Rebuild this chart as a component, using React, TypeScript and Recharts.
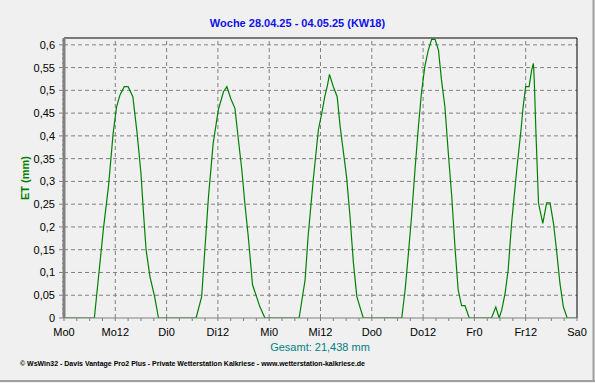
import { LineChart, Line, XAxis, YAxis, ReferenceLine } from 'recharts';

// hours since Monday 00:00 and evapotranspiration (mm)
const hours = [
  0, 7.1, 9.2, 10.4, 11.5, 12.3, 13.1, 14.1, 15.0, 16.1, 17.1, 18.0, 18.6, 19.2, 20.1, 21.2, 22.1,
  30.9, 32.2, 33.0, 33.8, 34.9, 36.1, 37.3, 38.1, 39.0, 40.0, 40.8, 41.6, 42.3, 43.1, 44.1, 45.8, 47.0,
  55.0, 56.4, 57.1, 58.3, 59.5, 60.3, 61.0, 61.6, 62.1, 63.0, 63.9, 64.6, 65.5, 66.1, 66.9, 67.7, 68.5, 70.0,
  79.0, 79.8, 80.5, 81.3, 82.1, 82.9, 83.6, 84.4, 85.2, 86.0, 86.8, 87.6, 88.3, 89.1, 89.9, 90.7, 91.5, 92.2, 93.0, 93.8, 94.8,
  100.0, 101.0, 101.8, 102.4, 103.2, 103.9, 104.7, 105.9, 106.9, 107.4, 108.0, 108.8, 109.4, 109.8, 110.0, 110.4, 111.0,
  112.0, 112.9, 113.7, 114.5, 115.2, 116.0, 116.8, 117.7, 120,
];
const etMm = [
  0, 0, 0.194, 0.289, 0.406, 0.464, 0.49, 0.508, 0.508, 0.486, 0.406, 0.318, 0.23, 0.15, 0.091, 0.047, 0,
  0, 0.047, 0.157, 0.267, 0.384, 0.457, 0.497, 0.508, 0.482, 0.46, 0.391, 0.325, 0.252, 0.179, 0.073, 0.025, 0,
  0, 0.084, 0.179, 0.303, 0.413, 0.45, 0.486, 0.51, 0.535, 0.508, 0.486, 0.42, 0.354, 0.31, 0.223, 0.121, 0.047, 0,
  0, 0.062, 0.135, 0.223, 0.325, 0.42, 0.493, 0.552, 0.588, 0.612, 0.612, 0.588, 0.523, 0.464, 0.362, 0.267, 0.15, 0.062, 0.027, 0.027, 0,
  0, 0.024, 0, 0.018, 0.055, 0.106, 0.208, 0.325, 0.413, 0.464, 0.508, 0.508, 0.545, 0.559, 0.523, 0.406, 0.252,
  0.208, 0.253, 0.253, 0.208, 0.15, 0.077, 0.025, 0, 0,
];

const dayNames = ['Mo', 'Di', 'Mi', 'Do', 'Fr', 'Sa'];
const xTicks = Array.from({ length: 41 }, (_, i) => i * 3);
const xGrid = [12, 24, 36, 48, 60, 72, 84, 96, 108];
const yTicks = Array.from({ length: 62 }, (_, i) => +(i * 0.01).toFixed(2));
const yGrid = [0.05, 0.1, 0.15, 0.2, 0.25, 0.3, 0.35, 0.4, 0.45, 0.5, 0.55, 0.6];
const Y_MAX = 0.615;

const data = hours.map((h, i) => ({ h, et: etMm[i] }));

const FONT = '"Liberation Sans", Arial, sans-serif';
const GRAY = '#808080';

const XTick = (props: any) => {
  const { x, y, payload } = props;
  const v = payload.value;
  const major = v % 12 === 0;
  const axisY = y - 7 - 3;
  return (
    <g>
      <line x1={x} x2={x} y1={axisY} y2={axisY + 3} stroke={GRAY} />
      {major && (
        <text x={x} y={y} dy="0.71em" textAnchor="middle" fontSize={11} fontFamily={FONT} fill="#000">
          {dayNames[Math.floor(v / 24)] + (v % 24 === 0 ? '0' : '12')}
        </text>
      )}
    </g>
  );
};

const YTick = (props: any) => {
  const { x, y, payload } = props;
  const v = payload.value;
  const major = Math.round(v * 100) % 5 === 0;
  const axisX = x + 5 + 4;
  return (
    <g>
      <line x1={major ? axisX - 5 : axisX - 2} x2={axisX} y1={y} y2={y} stroke={GRAY} />
      {major && (
        <text x={x} y={y} dy="0.36em" textAnchor="end" fontSize={11} fontFamily={FONT} fill="#000">
          {v.toString().replace('.', ',')}
        </text>
      )}
    </g>
  );
};

export default function App() {
  return (
    <div style={{ position: 'absolute', left: 0, top: 0, width: 595, height: 383, background: '#F0F0F0', fontFamily: FONT }}>
      <div style={{ position: 'absolute', left: 0, right: 0, top: 17, textAlign: 'center', color: '#1010E8', fontWeight: 'bold', fontSize: 11 }}>
        Woche 28.04.25 - 04.05.25 (KW18)
      </div>
      <div style={{ position: 'absolute', left: 25, top: 178, transform: 'translate(-50%, -50%) rotate(-90deg)', color: '#008000', fontWeight: 'bold', fontSize: 11, whiteSpace: 'nowrap' }}>
        ET (mm)
      </div>
      <LineChart width={595} height={383} data={data} margin={{ top: 38, right: 18, bottom: 35, left: 0 }} style={{ position: 'absolute', left: 0, top: 0 }}>
        {yGrid.map((v) => (
          <ReferenceLine key={'y' + v} y={v} stroke={GRAY} strokeDasharray="4 3" />
        ))}
        {xGrid.map((v) => (
          <ReferenceLine key={'x' + v} x={v} stroke={GRAY} strokeDasharray="4 3" />
        ))}
        <ReferenceLine y={Y_MAX} stroke="#000" />
        <ReferenceLine x={120} stroke="#000" />
        <XAxis
          dataKey="h"
          type="number"
          domain={[0, 120]}
          ticks={xTicks}
          interval={0}
          height={30}
          tickSize={3}
          tickMargin={7}
          tickLine={false}
          axisLine={{ stroke: GRAY }}
          tick={<XTick />}
        />
        <YAxis
          type="number"
          domain={[0, Y_MAX]}
          ticks={yTicks}
          interval={0}
          width={64}
          tickSize={4}
          tickMargin={5}
          tickLine={false}
          axisLine={{ stroke: GRAY, strokeWidth: 3 }}
          tick={<YTick />}
          allowDataOverflow
        />
        <Line type="linear" dataKey="et" stroke="#008000" strokeWidth={1.2} dot={false} isAnimationActive={false} />
      </LineChart>
      <div style={{ position: 'absolute', left: 260, width: 120, top: 341, textAlign: 'center', color: '#008080', fontSize: 11, whiteSpace: 'nowrap' }}>
        Gesamt: 21,438 mm
      </div>
      <svg width={595} height={383} style={{ position: 'absolute', left: 0, top: 0, pointerEvents: 'none' }}>
        <text x={20} y={366} fontSize={7} fontWeight="bold" fontFamily={FONT} fill="#000" textLength={345} lengthAdjust="spacingAndGlyphs">
          © WsWin32  -  Davis Vantage Pro2 Plus  -  Private Wetterstation Kalkriese - www.wetterstation-kalkriese.de
        </text>
        <line x1={593.5} x2={593.5} y1={0} y2={382} stroke="#A0A0A0" strokeWidth={2} />
        <line x1={0} x2={595} y1={381} y2={381} stroke="#A0A0A0" strokeWidth={2} />
      </svg>
    </div>
  );
}
